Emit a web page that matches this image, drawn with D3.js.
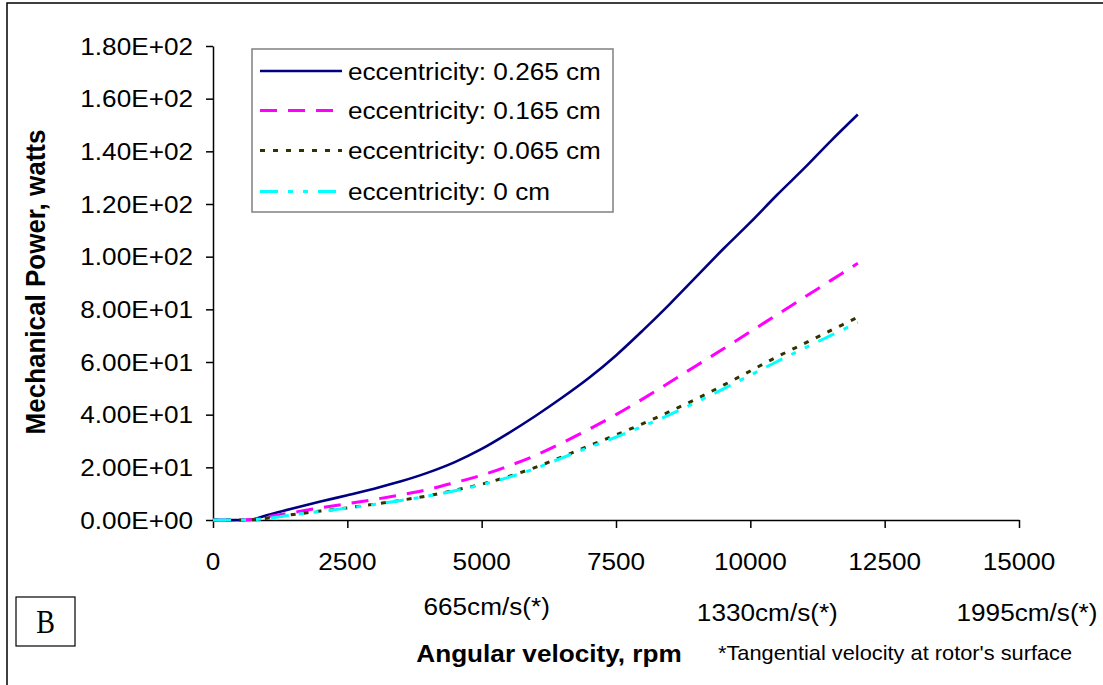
<!DOCTYPE html>
<html>
<head>
<meta charset="utf-8">
<script src="https://cdn.jsdelivr.net/npm/d3@7"></script>
<style>
  html, body { margin: 0; padding: 0; background: #fff; }
  svg { display: block; }
  text { font-family: Arial, "Liberation Sans", sans-serif; fill: #000; }
</style>
</head>
<body>
<svg id="chart" width="1103" height="685"></svg>
<script>
// Angular velocity (rpm) at which power was computed
const rpm = [0, 500, 750, 1000, 1500, 2000, 2500, 3000, 3500, 4000, 4500, 5000, 5500,
  6000, 6500, 7000, 7500, 8000, 8500, 9000, 9500, 10000, 10500, 11000, 11500, 12000];

// Mechanical power (watts) for each rotor eccentricity
const powerE0265 = [0, 0, 0.3, 1.8, 4.5, 7.0, 9.4, 11.9, 14.7, 18.0, 22.0, 27.0, 33.0,
  39.5, 46.5, 54.0, 62.5, 72.0, 82.0, 92.5, 103.0, 113.0, 123.5, 133.5, 144.0, 154.0];
const powerE0165 = [0, 0, 0.2, 1.2, 2.9, 4.6, 6.2, 7.8, 9.6, 11.6, 14.2, 17.0, 20.5,
  24.5, 29.3, 34.5, 40.0, 46.0, 52.3, 58.7, 65.0, 71.5, 78.0, 84.5, 91.0, 97.5];
const powerE0065 = [0, 0, 0.1, 0.7, 2.1, 3.4, 4.6, 6.0, 7.5, 9.2, 11.3, 13.6, 16.5,
  20.0, 24.0, 28.2, 32.3, 36.6, 41.2, 46.0, 51.2, 56.6, 62.0, 67.0, 72.0, 77.0];
const powerE0 = [0, 0, 0.1, 0.6, 2.0, 3.3, 4.5, 5.9, 7.4, 9.1, 11.1, 13.4, 16.2,
  19.6, 23.6, 27.6, 31.5, 35.6, 40.0, 44.8, 49.8, 55.0, 60.2, 65.2, 70.1, 75.0];

const seriesNames = ["eccentricity: 0.265 cm", "eccentricity: 0.165 cm",
  "eccentricity: 0.065 cm", "eccentricity: 0 cm"];

// Axis ticks
const xTicks = [0, 2500, 5000, 7500, 10000, 12500, 15000];
const yTicks = [0, 20, 40, 60, 80, 100, 120, 140, 160, 180];
const yTickLabels = ["0.00E+00", "2.00E+01", "4.00E+01", "6.00E+01", "8.00E+01",
  "1.00E+02", "1.20E+02", "1.40E+02", "1.60E+02", "1.80E+02"];

// Tangential velocity at the rotor surface, placed under the rpm axis
const tangentialRpm = [5000, 10000, 15000];
const tangentialLabels = ["665cm/s(*)", "1330cm/s(*)", "1995cm/s(*)"];

const styles = [
  { color: "#000080", dash: null, width: 2.6 },
  { color: "#FF00FF", dash: "17,11", width: 3 },
  { color: "#333300", dash: "5,8", width: 3 },
  { color: "#00FFFF", dash: "18,10,5,10,5,10", width: 3 }
];
const seriesValues = [powerE0265, powerE0165, powerE0065, powerE0];

const svg = d3.select("#chart");
const SX = 1.09; // horizontal glyph stretch

function label(x, y, str, opts = {}) {
  const sx = opts.sx || SX;
  const t = svg.append("text")
    .attr("transform", `translate(${x},${y}) scale(${sx},1)` + (opts.rotate ? ` rotate(${opts.rotate})` : ""))
    .attr("text-anchor", opts.anchor || "start")
    .attr("dominant-baseline", "central")
    .style("font-size", (opts.size || 24) + "px")
    .style("font-weight", opts.bold ? "bold" : "normal")
    .text(str);
  if (opts.family) t.style("font-family", opts.family);
  return t;
}

// Outer frame
svg.append("path")
  .attr("d", "M7,690 L7,3 L1110,3")
  .attr("fill", "none").attr("stroke", "#000").attr("stroke-width", 1.5);

const x = d3.scaleLinear().domain([0, 15000]).range([213, 1019]);
const y = d3.scaleLinear().domain([0, 180]).range([520, 46]);

// Axes
const xAxis = svg.append("g").attr("transform", `translate(0,${y(0)})`)
  .call(d3.axisBottom(x).tickValues(xTicks).tickSize(8).tickSizeOuter(0).tickFormat(""));
const yAxis = svg.append("g").attr("transform", `translate(${x(0)},0)`)
  .call(d3.axisLeft(y).tickValues(yTicks).tickSize(7).tickSizeOuter(0).tickFormat(""));
[xAxis, yAxis].forEach(g => {
  g.select(".domain").attr("stroke", "#000").attr("stroke-width", 1.5);
  g.selectAll(".tick line").attr("stroke", "#000").attr("stroke-width", 1.5);
});

xTicks.forEach(v => label(x(v), 561, d3.format("d")(v), { anchor: "middle" }));
yTicks.forEach((v, i) => label(193, y(v), yTickLabels[i], { anchor: "end" }));

// Lines
const line = d3.line()
  .x((d, i) => x(rpm[i]))
  .y(d => y(d))
  .curve(d3.curveCatmullRom.alpha(0.5));

seriesValues.forEach((vals, k) => {
  svg.append("path")
    .datum(vals)
    .attr("d", line)
    .attr("fill", "none")
    .attr("stroke", styles[k].color)
    .attr("stroke-width", styles[k].width)
    .attr("stroke-dasharray", styles[k].dash);
});

// Legend
const lg = svg.append("g");
lg.append("rect").attr("x", 252).attr("y", 49).attr("width", 361).attr("height", 163)
  .attr("fill", "#fff").attr("stroke", "#808080").attr("stroke-width", 1.5);
const rowY = [71, 110.5, 150.5, 191.5];
seriesNames.forEach((name, k) => {
  lg.append("line").attr("x1", 260).attr("x2", 342).attr("y1", rowY[k]).attr("y2", rowY[k])
    .attr("stroke", styles[k].color).attr("stroke-width", styles[k].width)
    .attr("stroke-dasharray", styles[k].dash);
  label(348, rowY[k], name);
});

// Axis titles
label(35, 282, "Mechanical Power, watts", { anchor: "middle", bold: true, rotate: -90, size: 26 });
label(549, 653, "Angular velocity, rpm", { anchor: "middle", bold: true });
label(718, 653, "*Tangential velocity at rotor's surface", { size: 20 });

// Tangential velocity labels
const tangY = [606, 612, 612];
tangentialRpm.forEach((v, i) =>
  label(x(v) + [5, 17, 8][i], tangY[i], tangentialLabels[i], { anchor: "middle" }));

// Panel tag
svg.append("rect").attr("x", 16).attr("y", 597).attr("width", 59).attr("height", 49)
  .attr("fill", "#fff").attr("stroke", "#000").attr("stroke-width", 1.2);
label(45.5, 622, "B", { anchor: "middle", size: 33, sx: 0.85, family: "'Liberation Serif', 'Times New Roman', serif" });
</script>
</body>
</html>
